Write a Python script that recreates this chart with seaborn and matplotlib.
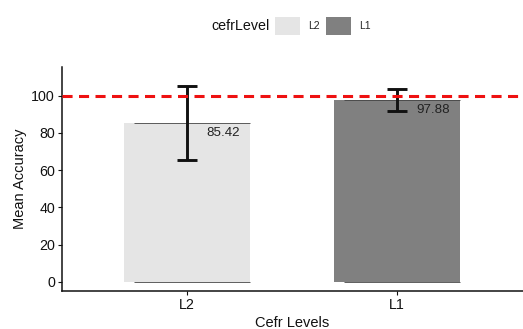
import matplotlib
matplotlib.use("Agg")
import matplotlib.pyplot as plt
from matplotlib.patches import Patch
import seaborn as sns
import pandas as pd

# Mean accuracy per CEFR level, with standard deviation
levels = ["L2", "L1"]
mean_accuracy = [85.42, 97.88]
sd_accuracy = [19.9, 5.8]
bar_colors = ["#e5e5e5", "#808080"]
reference_line = 100
y_ticks = [0, 20, 40, 60, 80, 100]

df = pd.DataFrame({"cefrLevel": levels, "accuracy": mean_accuracy, "sd": sd_accuracy})

sns.set_style("white")
plt.rcParams["font.family"] = ["Liberation Sans", "DejaVu Sans"]

fig = plt.figure(figsize=(5.23, 3.29), dpi=100)
ax = fig.add_axes([62 / 523, 38 / 329, 1 - 62 / 523, (291 - 67) / 329])

palette = dict(zip(levels, bar_colors))
sns.barplot(data=df, x="cefrLevel", y="accuracy", hue="cefrLevel", order=levels,
            hue_order=levels, palette=palette, width=0.6, errorbar=None,
            legend=False, saturation=1, linewidth=0, ax=ax)

# thin outline along the top and bottom edge of each bar
for i, p in enumerate(ax.patches):
    x0 = p.get_x()
    w = p.get_width()
    ax.hlines([mean_accuracy[i], 0], x0 + 0.05, x0 + w, colors="#444444", linewidth=0.6, zorder=3)

ax.errorbar(range(len(levels)), df["accuracy"], yerr=df["sd"], fmt="none",
            ecolor="#111111", elinewidth=2.1, capsize=7.5, capthick=2.1, zorder=4)

ax.axhline(reference_line, color="#ee1111", linestyle=(0, (3.3, 2.1)), linewidth=2.2, zorder=5)

for i, v in enumerate(mean_accuracy):
    ax.text(i + 0.17, v - 5.3, f"{v:.2f}", ha="center", va="center", fontsize=9.6, color="#222222", zorder=6)

ax.set_xlim(-0.595, 1.6)
ax.set_ylim(-5, 115.5)
ax.set_yticks(y_ticks)
ax.set_xlabel("Cefr Levels", fontsize=10.5, color="#111111", labelpad=3)
ax.set_ylabel("Mean Accuracy", fontsize=10.5, color="#111111", labelpad=3)
ax.tick_params(axis="both", labelsize=10.3, colors="#111111", length=3, width=0.8, direction="out",
               left=True, bottom=True, pad=2)
for side in ["top", "right"]:
    ax.spines[side].set_visible(False)
for side in ["left", "bottom"]:
    ax.spines[side].set_color("#111111")
    ax.spines[side].set_linewidth(1.1)

# horizontal legend above the plot, title on the left
handles = [Patch(facecolor=c, edgecolor="none") for c in bar_colors]
fig.legend(handles, levels, ncol=2, loc="center", bbox_to_anchor=(323 / 523, 1 - 26 / 329),
           frameon=False, fontsize=7.5, handlelength=2.4, handleheight=2.4, handletextpad=0.8,
           columnspacing=0.6, borderaxespad=0)
fig.text(240 / 523, 1 - 26 / 329, "cefrLevel", ha="center", va="center", fontsize=10.3, color="#111111")

fig.savefig("out.png", dpi=100)
